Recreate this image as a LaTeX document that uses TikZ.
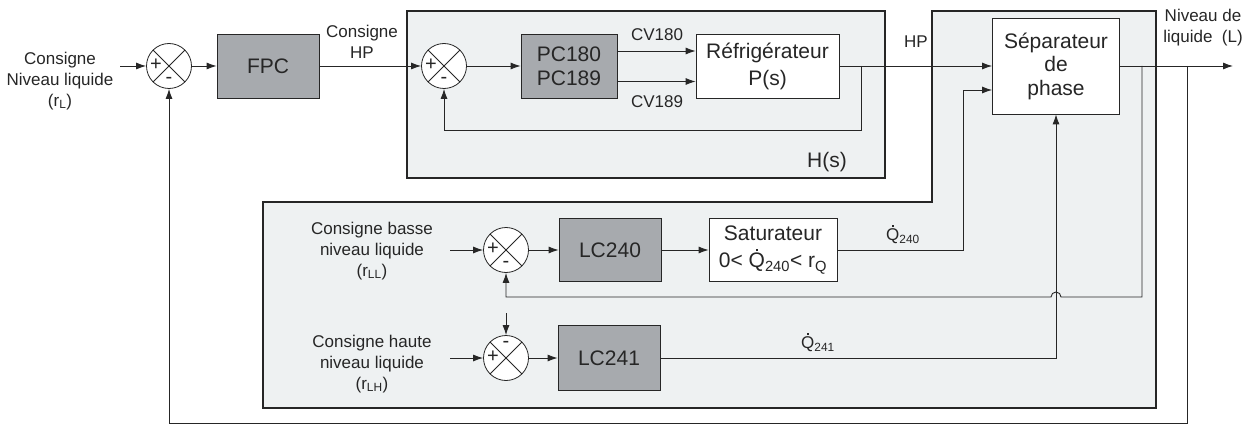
\documentclass[tikz,border=0pt]{standalone}
\usepackage{fontspec}
\setmainfont{Liberation Sans}
\usetikzlibrary{arrows.meta}
\definecolor{boxgray}{HTML}{A7AAAE}
\definecolor{panel}{HTML}{EEF1F2}
\definecolor{ink}{HTML}{262626}
\newcommand{\Qd}{\ooalign{Q\cr\hidewidth\raisebox{0.8em}{\rule{0.11em}{0.11em}}\hidewidth\cr}}
\begin{document}
\begin{tikzpicture}[x=1pt,y=-1pt,
  every node/.style={font=\fontsize{17}{21}\selectfont, text=ink},
  lbl/.style={align=center, inner sep=0pt},
  blk/.style={draw=ink, line width=0.8pt, fill=boxgray, inner sep=0pt, align=center, font=\fontsize{21}{24}\selectfont},
  wblk/.style={draw=ink, line width=0.8pt, fill=white, inner sep=0pt, align=center, font=\fontsize{21}{27}\selectfont},
  sumj/.style={circle, draw=ink, line width=0.8pt, fill=white, minimum size=45pt, inner sep=0pt,
    path picture={\draw[ink, line width=0.8pt] (path picture bounding box.north west)--(path picture bounding box.south east)
      (path picture bounding box.north east)--(path picture bounding box.south west);}},
  sgn/.style={inner sep=0pt, font=\fontsize{20}{20}\selectfont},
  pnl/.style={draw=ink, line width=2.2pt, fill=panel},
  wire/.style={draw=ink, line width=0.9pt},
  arr/.style={wire, -{Latex[length=10pt,width=7pt]}}]
\useasboundingbox (0,0) rectangle (1250,425);

% panels
\path[pnl] (407,11) rectangle (885,178);
\path[pnl] (932,11) -- (1156,11) -- (1156,408) -- (263,408) -- (263,202) -- (932,202) -- cycle;

% blocks
\node[sumj] (s1) at (169,66) {};
\node[sgn] (s1p) at (156,65) {+};
\node[sgn] (s1m) at (169,80) {-};
\node[blk, minimum width=102pt, minimum height=64pt] (fpc) at (268,66) {FPC};
\node[sumj] (s2) at (444,66) {};
\node[sgn] (s2p) at (431,65) {+};
\node[sgn] (s2m) at (444,80) {-};
\node[blk, minimum width=96pt, minimum height=64pt, font=\fontsize{21}{24}\selectfont] (pc) at (569,66) {PC180\\PC189};
\node[wblk, minimum width=143pt, minimum height=64pt] (ref) at (767.5,66) {Réfrigérateur\\P(s)};
\node[wblk, minimum width=127pt, minimum height=96pt, font=\fontsize{21}{23.5}\selectfont] (sep) at (1056,66) {Séparateur\\de\\phase};

\node[sumj] (s3) at (506,250) {};
\node[sgn] (s3p) at (493,249) {+};
\node[sgn] (s3m) at (506,264) {-};
\node[blk, minimum width=102pt, minimum height=63pt] (lc240) at (610,250) {LC240};
\node[wblk, minimum width=128pt, minimum height=63pt] (sat) at (773,250) {Saturateur\\0< \Qd\textsubscript{240}< r\textsubscript{Q}};

\node[sumj] (s4) at (506,358) {};
\node[sgn] (s4p) at (493,357) {+};
\node[sgn] (s4m) at (506,344) {-};
\node[blk, minimum width=102pt, minimum height=65pt] (lc241) at (609,358) {LC241};

% labels
\node[lbl] (tin1) at (60,81) {Consigne\\Niveau liquide\\(r\textsubscript{L})};
\node[lbl] (thp1) at (362,42) {Consigne\\HP};
\node[lbl] (tcv180) at (657,35) {CV180};
\node[lbl] (tcv189) at (657,102) {CV189};
\node[lbl] (ths) at (827,162) {\fontsize{21}{24}\selectfont H(s)};
\node[lbl] (thp2) at (916,42) {HP};
\node[lbl] (tout) at (1203,28) {Niveau de\\liquide\ \ (L)};
\node[lbl] (tin3) at (372,251) {Consigne basse\\niveau liquide\\(r\textsubscript{LL})};
\node[lbl] (tin4) at (372,364) {Consigne haute\\niveau liquide\\(r\textsubscript{LH})};
\node[lbl] (tq240) at (903,236) {\Qd\textsubscript{240}};
\node[lbl] (tq241) at (818,344) {\Qd\textsubscript{241}};

% coordinates
\coordinate (in1) at (120,66);
\coordinate (t1) at (861,66);
\coordinate (t1b) at (861,130);
\coordinate (t1c) at (444,130);
\coordinate (out) at (1233,66);
\coordinate (t2) at (1187,66);
\coordinate (t2b) at (1187,423);
\coordinate (t2c) at (169,423);
\coordinate (t3) at (1142,66);
\coordinate (t3b) at (1142,297);
\coordinate (h1) at (1061,297);
\coordinate (t3c) at (506,297);
\coordinate (in3) at (450,250);
\coordinate (q240) at (963,250);
\coordinate (in4) at (450,358);
\coordinate (top4) at (506,313);
\coordinate (q241) at (1056,358);

% connectors
\draw[arr] (in1) -- (s1.west);
\draw[arr] (s1.east) -- (fpc.west);
\draw[arr] (fpc.east) -- (s2.west);
\draw[arr] (s2.east) -- (pc.west);
\draw[arr] ([yshift=15pt]pc.east) -- ([yshift=15pt]ref.west);
\draw[arr] ([yshift=-15.5pt]pc.east) -- ([yshift=-15.5pt]ref.west);
\draw[arr] (ref.east) -- (sep.west);
\draw[arr] (t1) -- (t1b) -- (t1c) -- (s2.south);
\draw[arr] (sep.east) -- (out);
\draw[arr] (t2) -- (t2b) -- (t2c) -- (s1.south);
\draw[arr] (t3) -- (t3b) -- (h1) arc[start angle=0, end angle=180, radius=5pt] -- (t3c) -- (s3.south);
\draw[arr] (in3) -- (s3.west);
\draw[arr] (s3.east) -- (lc240.west);
\draw[arr] (lc240.east) -- (sat.west);
\draw[arr] (sat.east) -- (q240) |- ([yshift=-24pt]sep.west);
\draw[arr] (in4) -- (s4.west);
\draw[arr] (top4) -- (s4.north);
\draw[arr] (s4.east) -- (lc241.west);
\draw[arr] (lc241.east) -- (q241) -- (sep.south);
\end{tikzpicture}
\end{document}
